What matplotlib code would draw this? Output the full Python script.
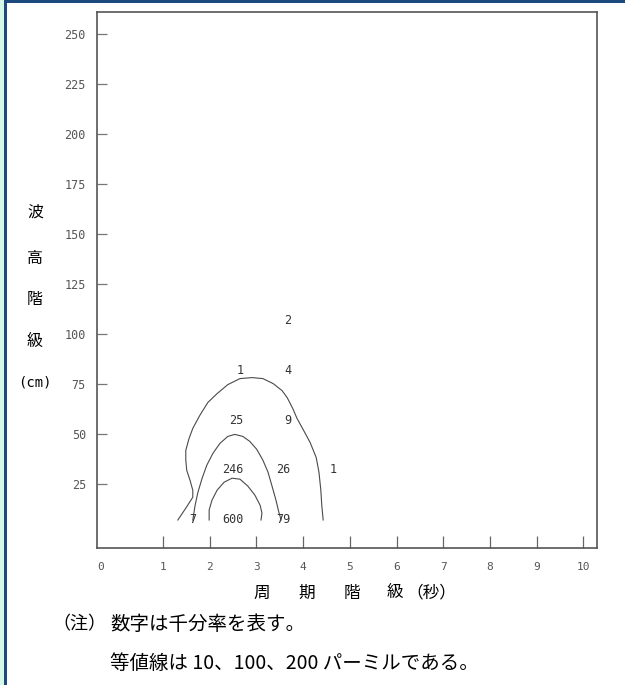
import matplotlib
matplotlib.use("Agg")
import matplotlib.pyplot as plt
from matplotlib.patches import Rectangle

# 等値線 (10, 100, 200 パーミル)
line10_x = [1.32, 1.49, 1.64, 1.64, 1.58, 1.51, 1.49, 1.49, 1.56, 1.64, 1.79, 1.96, 2.16, 2.39,
            2.65, 2.91, 3.14, 3.36, 3.55, 3.66, 3.78, 3.87, 4.00, 4.15, 4.28, 4.34, 4.38, 4.40, 4.43]
line10_y = [7.0, 12.9, 18.4, 21.9, 26.9, 31.9, 36.9, 41.8, 47.8, 52.8, 59.3, 65.7, 70.2, 74.7,
            77.7, 78.2, 77.7, 75.2, 71.7, 68.2, 62.7, 57.8, 52.3, 45.8, 38.3, 30.9, 21.9, 14.4, 7.0]
line100_x = [1.64, 1.69, 1.75, 1.84, 1.94, 2.07, 2.22, 2.39, 2.54, 2.71, 2.86, 3.01, 3.14, 3.25,
             3.33, 3.42, 3.48, 3.53]
line100_y = [7.0, 14.4, 20.9, 27.9, 34.4, 40.3, 45.3, 48.8, 49.8, 48.8, 46.3, 42.3, 36.9, 30.9,
             24.4, 16.9, 11.0, 7.0]
line200_x = [1.99, 1.99, 2.05, 2.16, 2.31, 2.48, 2.65, 2.82, 2.97, 3.08, 3.12, 3.10]
line200_y = [7.0, 12.0, 16.9, 21.9, 25.9, 27.9, 27.4, 23.9, 19.4, 14.4, 10.5, 7.0]

# 千分率の値
cell_text = ["2", "1", "4", "25", "9", "246", "26", "1", "7", "600", "79"]
cell_x = [3.68, 2.65, 3.68, 2.56, 3.68, 2.50, 3.57, 4.64, 1.64, 2.50, 3.57]
cell_y = [106.6, 81.7, 81.7, 56.8, 56.8, 32.4, 32.4, 32.4, 7.0, 7.0, 7.0]

x_ticks = [1, 2, 3, 4, 5, 6, 7, 8, 9, 10]
y_ticks = [25, 50, 75, 100, 125, 150, 175, 200, 225, 250]

num_font = "DejaVu Sans Mono"
jp_font = ["Noto Sans CJK JP", "DejaVu Sans"]

fig = plt.figure(figsize=(6.25, 6.85), dpi=100)
ax = fig.add_axes([0.1552, 0.2, 0.8, 0.7825])

lc = "#4a4a4a"
ax.plot(line10_x, line10_y, color=lc, lw=0.8)
ax.plot(line100_x, line100_y, color=lc, lw=0.8)
ax.plot(line200_x, line200_y, color=lc, lw=0.8)

for t, x, y in zip(cell_text, cell_x, cell_y):
    ax.text(x, y, t, ha="center", va="center", fontsize=8.5, family=num_font, color="#333333")

ax.set_xlim(-0.41, 10.29)
ax.set_ylim(-7, 261)
ax.set_xticks(x_ticks)
ax.set_yticks(y_ticks)
ax.set_xticklabels([str(v) for v in x_ticks], family=num_font, fontsize=8, color="#555555")
ax.set_yticklabels([str(v) for v in y_ticks], family=num_font, fontsize=8.5, color="#555555")
ax.tick_params(axis="x", direction="in", length=8.5, width=0.9, color="#666666", pad=10)
ax.tick_params(axis="y", direction="in", length=7, width=0.9, color="#777777", pad=8)
ax.text(-0.41, -0.026, "0", transform=ax.get_xaxis_transform(), ha="left", va="top",
        family=num_font, fontsize=8, color="#555555")
for s in ax.spines.values():
    s.set_color("#555555")
    s.set_linewidth(1.2)

# 縦軸の見出し (縦書き)
W, H = 625, 685
for ch, py in zip(["波", "高", "階", "級"], [212, 258, 299, 342]):
    fig.text(35 / W, 1 - py / H, ch, ha="center", va="center", fontsize=11.5, family=jp_font)
fig.text(35 / W, 1 - 382 / H, "(cm)", ha="center", va="center", fontsize=10, family=num_font)

# 横軸の見出し
for ch, px in zip(["周", "期", "階", "級", "（秒）"], [262, 307, 352, 395, 431]):
    fig.text(px / W, 1 - 593 / H, ch, ha="center", va="center", fontsize=12, family=jp_font)

# 注記
fig.text(106 / W, 1 - 624 / H, "（注）", ha="right", va="center", fontsize=13, family=jp_font)
fig.text(110 / W, 1 - 624 / H, "数字は千分率を表す。", ha="left", va="center",
         fontsize=14, family=jp_font)
fig.text(110 / W, 1 - 663 / H, "等値線は 10、100、200 パーミルである。", ha="left", va="center",
         fontsize=14, family=jp_font)

# 外枠
fig.add_artist(Rectangle((0, 0), 4 / W, 1, transform=fig.transFigure, color="#d6f6e6", lw=0))
fig.add_artist(Rectangle((4 / W, 0), 2.5 / W, 1, transform=fig.transFigure, color="#1d4a7e", lw=0))
fig.add_artist(Rectangle((4 / W, 1 - 2.5 / H), 1, 2.5 / H, transform=fig.transFigure,
                         color="#1d4a7e", lw=0))

fig.savefig("out.png", dpi=100)
